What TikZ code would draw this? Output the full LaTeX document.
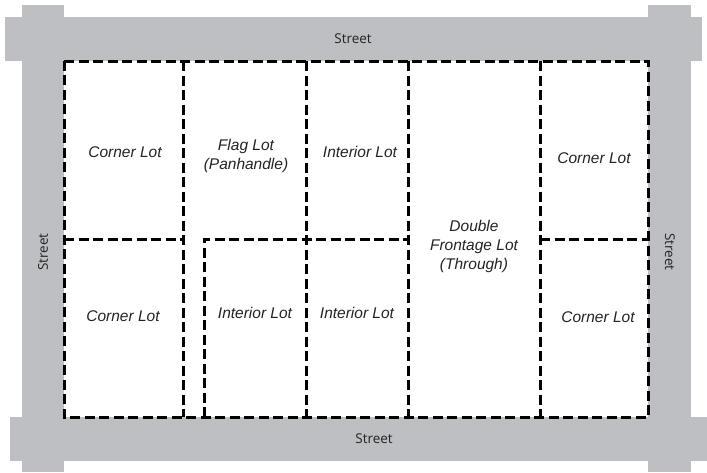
\documentclass[tikz,border=0pt]{standalone}
\usepackage{fontspec}
\setmainfont{Liberation Sans}
\newfontfamily\streetfont{Open Sans}
\definecolor{streetgray}{RGB}{190,191,195}
\definecolor{inkgray}{RGB}{35,35,35}
\begin{document}
\begin{tikzpicture}[x=1pt,y=-1pt,
  street/.style={fill=streetgray,draw=none},
  streetlabel/.style={font=\streetfont\fontsize{13.5}{16}\selectfont,text=inkgray,inner sep=0pt},
  lotline/.style={draw=black,line width=3pt,dash pattern=on 10pt off 4.5pt},
  lotlabel/.style={font=\itshape\fontsize{15.5}{19}\selectfont,text=inkgray,align=center,inner sep=0pt}]
\useasboundingbox (0,0) rectangle (707,472);
% streets
\fill[street] (5,17) rectangle (702,61);
\fill[street] (10,417) rectangle (707,461);
\fill[street] (22,5) rectangle (64,472);
\fill[street] (648,5) rectangle (691,472);
\node[streetlabel] (stN) at (353,39) {Street};
\node[streetlabel] (stS) at (374,439) {Street};
\node[streetlabel,rotate=90] (stW) at (43,252) {Street};
\node[streetlabel,rotate=-90] (stE) at (670,252) {Street};
% block corners and lot line points
\coordinate (nw) at (64,61);
\coordinate (ne) at (648,61);
\coordinate (se) at (648,417);
\coordinate (sw) at (64,417);
\coordinate (a1) at (183,61);  \coordinate (a2) at (183,417);
\coordinate (b1) at (204,239); \coordinate (b2) at (204,417);
\coordinate (c1) at (306,61);  \coordinate (c2) at (306,417);
\coordinate (d1) at (408,61);  \coordinate (d2) at (408,417);
\coordinate (e1) at (540,61);  \coordinate (e2) at (540,417);
\coordinate (wm) at (64,239);  \coordinate (am) at (183,239);
\coordinate (dm) at (408,239);
\coordinate (em) at (540,239); \coordinate (em2) at (648,239);
% lot lines
\draw[lotline] (nw) -- (ne) -- (se) -- (sw) -- cycle;
\draw[lotline] (a1) -- (a2);
\draw[lotline] (b2) -- (b1) -- (dm);
\draw[lotline] (c1) -- (c2);
\draw[lotline] (d1) -- (d2);
\draw[lotline] (e1) -- (e2);
\draw[lotline] (wm) -- (am);
\draw[lotline] (em) -- (em2);
% lot labels
\node[lotlabel] (l1) at (125,152) {Corner Lot};
\node[lotlabel] (l2) at (246,156) {Flag Lot\\(Panhandle)};
\node[lotlabel] (l3) at (360,152) {Interior Lot};
\node[lotlabel] (l4) at (474,246) {Double\\Frontage Lot\\(Through)};
\node[lotlabel] (l5) at (594,158) {Corner Lot};
\node[lotlabel] (l6) at (123,316) {Corner Lot};
\node[lotlabel] (l7) at (255,313) {Interior Lot};
\node[lotlabel] (l8) at (357,313) {Interior Lot};
\node[lotlabel] (l9) at (598,317) {Corner Lot};
\end{tikzpicture}
\end{document}
